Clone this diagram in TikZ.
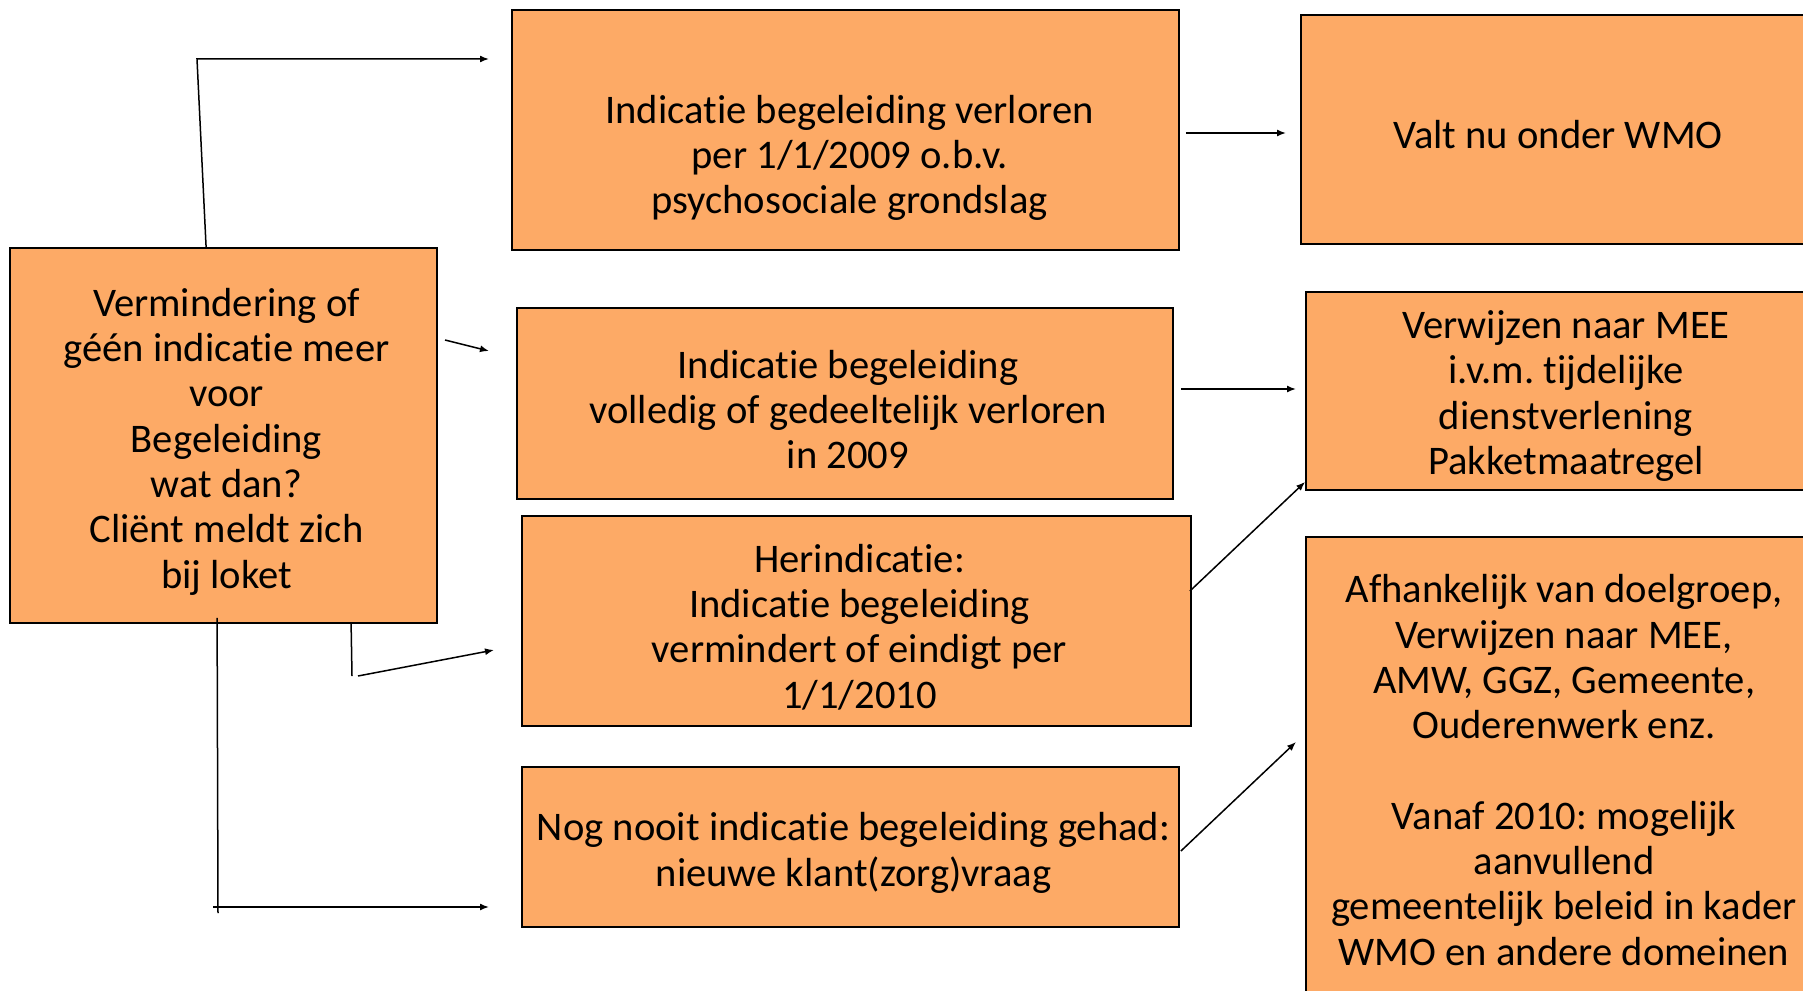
\documentclass[tikz,border=0pt]{standalone}
\usepackage{fontspec}
\setmainfont{Carlito}[Ligatures=NoCommon]
\usetikzlibrary{arrows.meta,calc}
\definecolor{boxfill}{RGB}{253,170,102}
\tikzset{
  box/.style={draw=black, line width=1.8pt, fill=boxfill, rectangle, inner sep=0pt},
  txt/.style={align=center, font=\fontsize{40.6}{45.3}\selectfont\frenchspacing, inner sep=0pt},
  conn/.style={line width=1.5pt, -{Latex[length=9pt,width=7pt]}},
  plainline/.style={line width=1.5pt},
}
\begin{document}
\begin{tikzpicture}[x=1pt,y=-1pt]
\useasboundingbox (0,0) rectangle (1803,990);
\clip (0,0) rectangle (1803,990);
\fill[white] (0,0) rectangle (1803,990);

% boxes
\node[box, minimum width=427pt, minimum height=375pt] (L) at (223.5,435.5) {};
\node[box, minimum width=667pt, minimum height=240pt] (A) at (845.5,130) {};
\node[box, minimum width=656pt, minimum height=191pt] (B) at (845,403.5) {};
\node[box, minimum width=669pt, minimum height=210pt] (C) at (856.5,621) {};
\node[box, minimum width=657pt, minimum height=160pt] (D) at (850.5,847) {};
\node[box, minimum width=514pt, minimum height=229pt] (R1) at (1558,129.5) {};
\node[box, minimum width=520pt, minimum height=198pt] (R2) at (1566,391) {};
\node[box, minimum width=516pt, minimum height=460pt] (R3) at (1564,767) {};

% texts
\node[txt] (Lt) at ($(L.center)+(3,6)$)
  {Vermindering of\\géén indicatie meer\\voor\\Begeleiding\\wat dan?\\Cliënt meldt zich\\bij loket};
\node[txt] (At) at ($(A.center)+(4,28)$) {Indicatie begeleiding verloren\\per 1/1/2009 o.b.v.\\psychosociale grondslag};
\node[txt] (Bt) at ($(B.center)+(3,6)$)
  {Indicatie begeleiding\\volledig of gedeeltelijk verloren\\in 2009};
\node[txt] (Ct) at ($(C.center)+(3,6)$)
  {Herindicatie:\\Indicatie begeleiding\\vermindert of eindigt per\\1/1/2010};
\node[txt] (Dt) at ($(D.center)+(3,6)$)
  {Nog nooit indicatie begeleiding gehad:\\nieuwe klant(zorg)vraag};
\node[txt] (R1t) at ($(R1.center)+(0,5)$) {Valt nu onder WMO};
\node[txt] (R2t) at ($(R2.center)+(0,5)$)
  {Verwijzen naar MEE\\i.v.m. tijdelijke\\dienstverlening\\Pakketmaatregel};
\node[txt] (R3t) at ($(R3.center)+(0,3)$)
  {Afhankelijk van doelgroep,\\Verwijzen naar MEE,\\AMW, GGZ, Gemeente,\\Ouderenwerk enz.\\[45.3pt]Vanaf 2010: mogelijk\\aanvullend\\gemeentelijk beleid in kader\\WMO en andere domeinen};

% connector coordinates
\coordinate (k1) at (197,59);
\coordinate (e1) at (489,59);
\coordinate (s2) at (445,340);
\coordinate (e2) at (489,351);
\coordinate (k3) at (352,676);
\coordinate (s3) at (358,676);
\coordinate (e3) at (494,650);
\coordinate (k4) at (218,913);
\coordinate (h4) at (213,907);
\coordinate (e4) at (489,907);
\coordinate (e5) at (1286,133);
\coordinate (e6) at (1296,389);
\coordinate (e8) at (1296,742);

% connectors
\draw[conn] ($(L.north west)+(197,0)$) -- (k1) -- (e1);
\draw[conn] (s2) -- (e2);
\draw[plainline] ($(L.south west)+(342,0)$) -- (k3);
\draw[conn] (s3) -- (e3);
\draw[plainline] ($(L.south west)+(208,-6)$) -- (k4);
\draw[conn] (h4) -- (e4);
\draw[conn] ($(A.east)+(6,3)$) -- (e5);
\draw[conn] ($(B.east)+(7,-14.5)$) -- (e6);
\draw[conn] ($(C.east)+(-2,-30)$) -- ($(R2.south west)+(0,-9)$);
\draw[conn] ($(D.east)+(1,4)$) -- (e8);
\end{tikzpicture}
\end{document}
